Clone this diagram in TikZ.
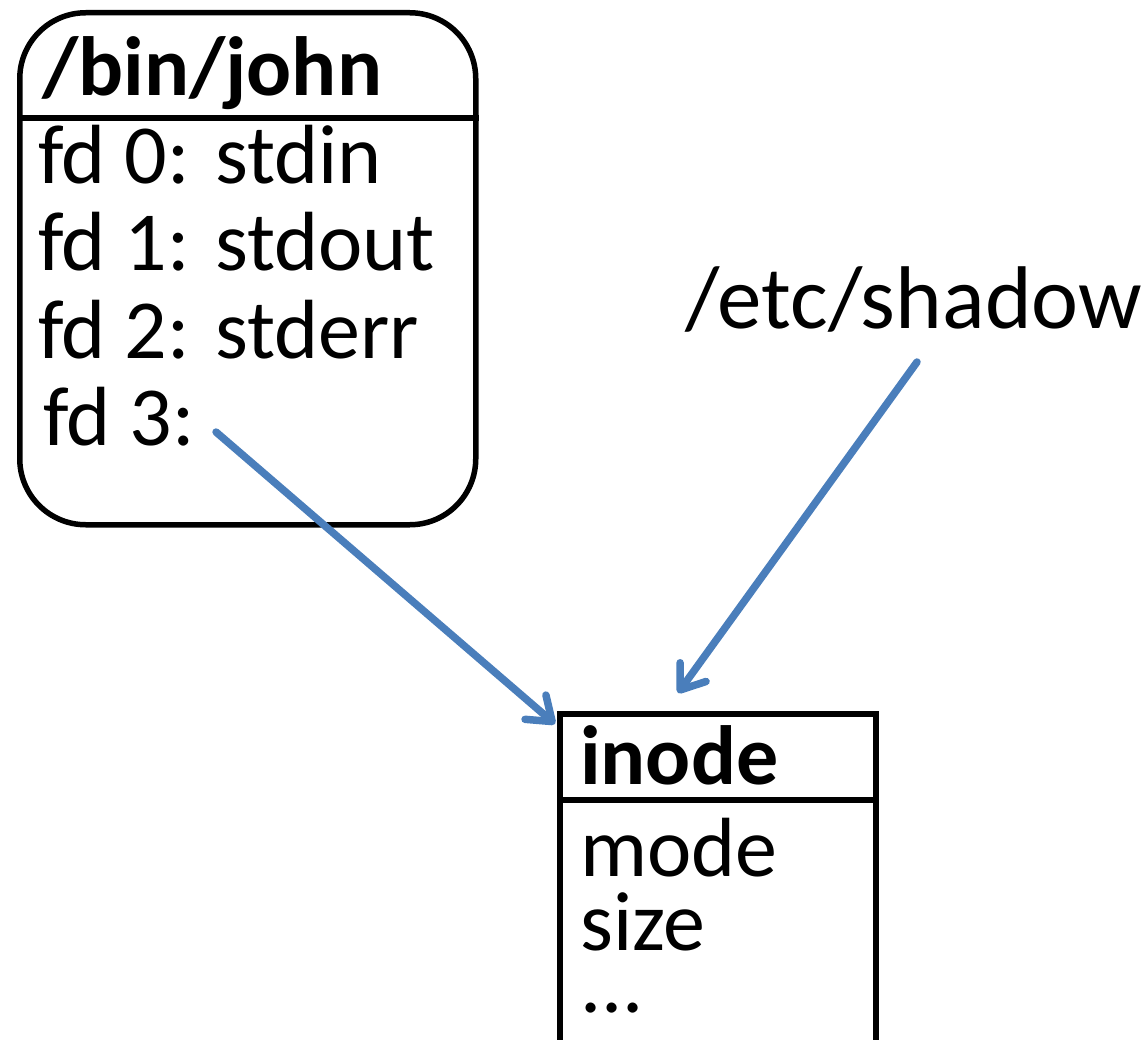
\documentclass[tikz,border=0pt]{standalone}
\usepackage{fontspec}
\setmainfont{Carlito}
\usetikzlibrary{arrows.meta}
\definecolor{linkblue}{RGB}{74,126,187}
\tikzset{
  boxline/.style={draw=black, line width=5.5pt},
  entry/.style={inner sep=0pt, anchor=base west, text height=0.62em, text depth=0.1em,
    font=\fontsize{84}{84}\selectfont},
  heading/.style={entry, font=\fontsize{84}{84}\selectfont\bfseries},
  pointer/.style={draw=linkblue, line width=7.5pt, line cap=round,
    -{Straight Barb[length=22pt, width=32pt, round]}}
}
\begin{document}
\begin{tikzpicture}[x=1pt, y=-1pt]
\useasboundingbox (0,0) rectangle (1147,1040);
\begin{scope}
\clip (0,0) rectangle (1147,1040);

% process box with its file descriptor table
\node[boxline, rounded corners=66pt, minimum width=456pt, minimum height=512pt,
      anchor=north west, inner sep=0pt] (john) at (17,10) {};
\draw[boxline] (john.west |- 0,118) -- (john.east |- 0,118);
\node[heading] (jtitle) at (42,96) {/bin/john};
\node[entry] (fd0) at (38,184) {fd 0: stdin};
\node[entry] (fd1) at (38,271) {fd 1: stdout};
\node[entry] (fd2) at (38,358) {fd 2: stderr};
\node[entry] (fd3) at (43,445) {fd 3:};
\coordinate (fd3ptr) at (216,432);

% inode record
\node[boxline, minimum width=316pt, minimum height=420pt,
      anchor=north west, inner sep=0pt] (inode) at (557,711) {};
\draw[boxline] (inode.west |- 0,800) -- (inode.east |- 0,800);
\node[heading] (ititle) at (580,784) {inode};
\node[entry] (imode) at (580,876) {mode};
\node[entry] (isize) at (580,950) {size};
\node[entry] (imore) at (580,1012) {...};

% path name
\node[inner sep=0pt, anchor=base west, font=\fontsize{89}{89}\selectfont]
      (shadow) at (685,328) {/etc/shadow};
\coordinate (shadowptr) at (917,362);

% links to the inode
\draw[pointer] (fd3ptr) -- ([shift={(-2pt,-13pt)}]inode.north west);
\draw[pointer] (shadowptr) -- ([shift={(121pt,18pt)}]inode.north west);
\end{scope}
\end{tikzpicture}
\end{document}
